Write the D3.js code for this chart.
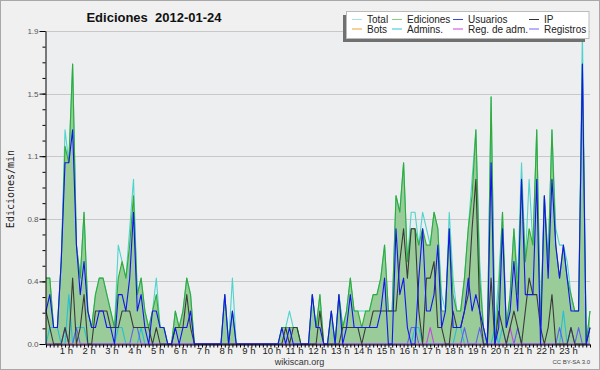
<!DOCTYPE html>
<html>
<head>
<meta charset="utf-8">
<script src="https://cdn.jsdelivr.net/npm/d3@7"></script>
<style>
body { margin: 0; background: #fff; }
text { font-family: "Liberation Sans", Arial, sans-serif; }
</style>
</head>
<body>
<div id="chart"></div>
<script>
// ---- data: edits per minute, one value per 10 minutes (144 slots) ----
var hourLabels = ["1 h","2 h","3 h","4 h","5 h","6 h","7 h","8 h","9 h","10 h","11 h","12 h",
  "13 h","14 h","15 h","16 h","17 h","18 h","19 h","20 h","21 h","22 h","23 h"];

var yTicks = [0, 0.38, 0.76, 1.14, 1.52, 1.9];

var total = [
  .4,.4,.1,.1,.5,1.3,  1.1,1.7,.6,.4,.8,.2,  .1,.3,.4,.4,.3,.2,  .1,.6,.5,.4,.7,1.0,
  .3,.4,.2,.1,.2,.4,   .1,.1,0,0,.2,.1,      .2,.4,.3,0,0,0,     0,0,0,0,0,.3,
  0,.4,0,0,0,0,        0,0,0,0,0,0,          0,0,.1,.1,.2,.1,    .1,0,0,0,.3,.1,
  .3,0,0,.2,0,.3,      .1,.2,.4,.2,.2,.2,    .2,.2,.3,.3,.4,.6,  .2,.2,.9,.8,1.1,.5,
  .8,.8,.6,.8,.7,.6,   .8,.7,.3,.2,.8,.4,    .2,.2,.4,.7,1.0,1.3, .5,.1,0,1.5,.1,.4,
  .8,.1,.3,.7,.4,1.1,  .5,1.0,.6,1.3,.1,.9,  .5,1.3,.7,.6,.6,.5, .3,.2,.2,1.9,0,.2
];

var ediciones = [
  .4,.4,.1,.1,.5,1.2,  1.1,1.7,.6,.4,.8,.2,  .1,.3,.4,.4,.3,.2,  .1,.4,.5,.4,.6,.9,
  .3,.4,.2,.1,.2,.3,   .1,.1,0,0,.2,.1,      .2,.4,.3,0,0,0,     0,0,0,0,0,.3,
  0,.2,0,0,0,0,        0,0,0,0,0,0,          0,0,.1,.1,.1,.1,    .1,0,0,0,.3,.1,
  .3,0,0,.2,0,.3,      .1,.2,.4,.2,.2,.1,    .2,.2,.3,.3,.4,.6,  .2,.2,.9,.8,1.1,.5,
  .7,.7,.6,.7,.6,.6,   .8,.7,.2,.2,.7,.3,    .2,.2,.4,.7,.9,1.3, .4,.1,0,1.5,0,.3,
  .8,.1,.3,.7,.3,1.0,  .5,.7,.6,1.3,.1,.9,   .5,1.3,.6,.4,.6,.4, .3,.2,.2,1.7,0,.2
];

var usuarios = [
  .2,.3,.1,.1,.5,1.1,  1.1,1.3,.6,.3,.5,.2,  .1,.1,.2,.2,.1,.1,  0,.3,.3,.2,.4,.8,
  .2,.3,.1,0,.2,.2,    .1,.1,0,0,.1,0,       .1,.1,.2,0,0,0,     0,0,0,0,0,.3,
  0,.2,0,0,0,0,        0,0,0,0,0,0,          0,0,.1,0,.1,0,      0,0,0,0,.3,.1,
  .1,0,0,.2,0,.3,      0,.1,.3,.1,.1,.1,     .1,.1,.1,.1,.2,.4,  0,0,.7,.3,.4,.1,
  0,0,.4,.7,.2,.2,     .3,.6,.1,.2,.7,.1,    .1,.1,.2,.4,.2,.3,  .2,.1,0,1.1,0,.1,
  .7,.1,.2,.5,.2,1.0,  .3,.3,.3,1.0,0,.9,    .4,1.0,.6,.4,.6,.4, .2,.2,.2,1.7,0,.1
];

var ip = [
  .2,.1,0,0,0,.1,      0,.4,0,.1,.3,0,       0,.2,.2,.2,.2,.1,   .1,.1,.2,.2,.2,.1,
  .1,.1,.1,.1,0,.1,    0,0,0,0,.1,.1,        .1,.3,.1,0,0,0,     0,0,0,0,0,0,
  0,0,0,0,0,0,         0,0,0,0,0,0,          0,0,0,.1,0,.1,      .1,0,0,0,0,0,
  .2,0,0,0,0,0,        .1,.1,.1,.1,.1,0,     .1,.1,.2,.2,.2,.2,  .2,.2,.2,.5,.7,.4,
  .7,.7,.2,0,.4,.4,    .5,.1,.1,0,0,.2,      .1,.1,.2,.3,.7,1.0, .2,0,0,.4,0,.2,
  .1,0,.1,.2,.1,0,     .2,.4,.3,.3,.1,0,     .1,.3,0,0,0,0,      .1,0,0,0,0,.1
];

var bots = [
  0,0,0,0,0,0, 0,0,0,0,0,0, 0,0,0,0,0,0, 0,0,0,0,0,0, 0,0,0,0,0,0, 0,0,0,0,0,0,
  0,0,0,0,0,0, 0,0,0,0,0,0, 0,0,0,0,0,0, 0,0,0,0,0,0, 0,0,0,0,0,0, 0,0,0,0,0,0,
  0,0,0,0,0,0, 0,0,0,0,0,0, 0,0,0,0,0,0, 0,0,0,0,0,0, 0,0,0,0,0,0, 0,0,0,0,0,0,
  0,0,0,0,0,0, 0,0,0,0,0,0, 0,0,0,0,0,0, 0,0,0,0,0,0, 0,0,0,0,0,0, 0,0,0,0,0,0
];

var admins = [
  0,.1,.1,.1,0,0,  .3,0,.1,.1,.1,0,  0,0,0,0,0,0,  0,.1,.1,0,0,0,
  0,.1,0,0,0,0,    0,0,0,0,0,0,      0,0,0,0,0,0,  0,0,0,0,0,0,
  0,0,0,0,0,0,     0,0,0,0,0,0,      0,0,0,0,0,0,  0,0,0,0,0,0,
  0,0,0,0,0,0,     0,0,0,0,0,0,      0,0,0,0,0,0,  0,0,0,0,0,0,
  0,.1,.1,0,0,0,   0,0,0,0,0,0,      .1,.1,0,0,0,0, 0,0,0,0,.1,0,
  .1,0,0,0,0,0,    0,0,0,0,0,0,      0,0,0,0,.2,0, 0,0,0,0,0,0
];

var regAdm = [
  0,0,0,0,0,0, 0,0,0,0,0,0, 0,0,0,0,0,0, 0,0,0,0,0,0, 0,0,0,0,0,0, 0,0,0,0,0,0,
  0,0,0,0,0,0, 0,0,0,0,0,0, 0,0,0,0,0,0, 0,0,0,0,0,0, 0,0,0,0,0,0, 0,0,0,0,0,0,
  0,0,0,0,0,0, 0,0,0,0,0,0, 0,0,0,0,0,0, 0,0,0,0,0,0, 0,0,0,0,0,.1, 0,0,0,0,0,0,
  0,0,0,0,0,0, 0,0,0,0,0,0, 0,0,.1,0,0,0, 0,0,0,0,0,0, 0,0,0,0,0,0, 0,0,0,0,0,0
];

var registros = [
  0,0,0,0,0,.1,  0,0,.1,0,0,0,  0,0,0,0,0,0,  0,0,0,0,0,.1,
  .1,0,0,0,0,0,  0,0,0,0,0,0,   0,0,0,0,0,0,  0,0,0,0,0,0,
  0,0,0,0,0,0,   0,0,0,0,0,0,   0,0,0,0,0,0,  0,0,0,0,0,0,
  0,0,0,0,0,0,   0,0,0,0,0,0,   0,0,0,0,0,0,  0,0,0,0,0,0,
  .1,.1,0,0,0,0, 0,0,0,0,0,0,   0,0,.1,0,0,0, .1,0,0,0,0,0,
  0,0,0,0,.1,0,  0,0,0,0,0,0,   0,0,0,.1,0,0, .1,0,.1,0,0,0
];

var legendNames = ["Total","Ediciones","Usuarios","IP","Bots","Admins.","Reg. de adm.","Registros"];
var legendColors = ["#a8e2e2","#88cc88","#4040e0","#333333","#f0a030","#30c4d8","#cc44dd","#6a6af0"];

// ---- svg ----
var svgWidth = 600;
var svgHeight = 370;

var svg = d3.select("#chart")
  .append("svg")
  .attr("width", svgWidth)
  .attr("height", svgHeight);

// page background with thin frame
svg.append("rect")
  .attr("x", 0.5).attr("y", 0.5)
  .attr("width", svgWidth - 1).attr("height", svgHeight - 1)
  .attr("fill", "#f0f0f0")
  .attr("stroke", "#a8a8a8");

var plot = { left: 46, right: 590, top: 31, bottom: 344 };

var x = d3.scaleLinear().domain([0, total.length - 1]).range([plot.left, plot.right]);
var y = d3.scaleLinear().domain([0, 1.9]).range([plot.bottom, plot.top]);

// plot area background
svg.append("rect")
  .attr("x", plot.left).attr("y", plot.top)
  .attr("width", plot.right - plot.left).attr("height", plot.bottom - plot.top)
  .attr("fill", "#eceef0");

// gridlines
svg.append("g")
  .selectAll("line")
  .data(yTicks.slice(1))
  .enter()
  .append("line")
  .attr("x1", plot.left).attr("x2", plot.right)
  .attr("y1", d => Math.round(y(d)) + 0.5).attr("y2", d => Math.round(y(d)) + 0.5)
  .attr("stroke", "#c8c8c8");

// green area for Ediciones
var area = d3.area()
  .x((d, i) => x(i))
  .y0(y(0))
  .y1(d => y(d));

svg.append("path")
  .datum(ediciones)
  .attr("d", area)
  .attr("fill", "#99cc99");

var line = d3.line()
  .x((d, i) => x(i))
  .y(d => y(d));

function drawLine(data, color) {
  svg.append("path")
    .datum(data)
    .attr("d", line)
    .attr("fill", "none")
    .attr("stroke", color)
    .attr("stroke-width", 1.1)
    .attr("stroke-linejoin", "round");
}

drawLine(bots, "#f0a030");
drawLine(total, "#4fd4cc");
drawLine(ediciones, "#33aa33");
drawLine(admins, "#22c0d8");
drawLine(registros, "#6060f0");
drawLine(regAdm, "#cc44dd");
drawLine(ip, "#3a3a3a");
drawLine(usuarios, "#1414ee");

// y axis with major and minor ticks
var yMinor = d3.range(0, 1.9001, 0.095);
svg.append("g")
  .attr("transform", `translate(${plot.left - 0.5},0)`)
  .call(d3.axisLeft(y).tickValues(yMinor).tickSize(3).tickSizeOuter(0).tickFormat(""))
  .call(g => g.selectAll("line").attr("stroke", "#000"))
  .call(g => g.select(".domain").attr("stroke", "#000"));

svg.append("g")
  .attr("transform", `translate(${plot.left - 0.5},0)`)
  .call(d3.axisLeft(y).tickValues(yTicks).tickSize(6).tickSizeOuter(0).tickPadding(1).tickFormat(d3.format(".1f")))
  .call(g => g.select(".domain").remove())
  .call(g => g.selectAll("line").attr("stroke", "#000"))
  .call(g => g.selectAll("text")
    .attr("font-family", "'Liberation Sans', Arial, sans-serif")
    .attr("font-size", "8px")
    .attr("fill", "#555"));

// x axis: one small tick per 10 minutes
svg.append("g")
  .attr("transform", `translate(0,${plot.bottom + 0.5})`)
  .call(d3.axisBottom(x).tickValues(d3.range(0, total.length)).tickSize(3).tickSizeOuter(0).tickFormat(""))
  .call(g => g.selectAll("line").attr("stroke", "#000"))
  .call(g => g.select(".domain").attr("stroke", "#000"));

// hour labels
svg.append("g")
  .selectAll("text")
  .data(hourLabels)
  .enter()
  .append("text")
  .attr("x", (d, i) => x((i + 1) * 6) - 2.5)
  .attr("y", 353.5)
  .attr("text-anchor", "middle")
  .attr("font-size", "9.5px")
  .attr("fill", "#222")
  .text(d => d);

// title
svg.append("text")
  .attr("x", 154)
  .attr("y", 21.5)
  .attr("text-anchor", "middle")
  .attr("font-size", "13px")
  .attr("font-weight", "bold")
  .attr("fill", "#111")
  .attr("xml:space", "preserve")
  .text("Ediciones  2012-01-24");

// y label
svg.append("text")
  .attr("transform", "translate(14,189) rotate(-90)")
  .attr("text-anchor", "middle")
  .style("font-family", "'DejaVu Sans Mono', monospace")
  .attr("font-size", "10px")
  .attr("fill", "#222")
  .text("Ediciones/min");

// footer texts
svg.append("text")
  .attr("x", 299.5).attr("y", 364.5)
  .attr("text-anchor", "middle")
  .attr("font-size", "9px")
  .attr("fill", "#333")
  .text("wikiscan.org");

svg.append("text")
  .attr("x", 590).attr("y", 364)
  .attr("text-anchor", "end")
  .attr("font-size", "6px")
  .attr("fill", "#444")
  .text("CC BY-SA 3.0");

// legend with shadow
var legend = svg.append("g");
legend.append("rect")
  .attr("x", 343).attr("y", 15)
  .attr("width", 242).attr("height", 27)
  .attr("fill", "#707070");
legend.append("rect")
  .attr("x", 346.5).attr("y", 11.5)
  .attr("width", 242.5).attr("height", 27)
  .attr("fill", "#fff")
  .attr("stroke", "#bbb");

var colX = [352, 392, 453, 529];
var rowY = [19.5, 29];

legendNames.forEach(function(name, i) {
  var cx = colX[i % 4];
  var cy = rowY[Math.floor(i / 4)];
  legend.append("line")
    .attr("x1", cx).attr("x2", cx + 10)
    .attr("y1", cy).attr("y2", cy)
    .attr("stroke", legendColors[i]);
  legend.append("text")
    .attr("x", cx + 15)
    .attr("y", cy + 3.5)
    .attr("font-size", "10px")
    .attr("fill", "#222")
    .text(name);
});
</script>
</body>
</html>
